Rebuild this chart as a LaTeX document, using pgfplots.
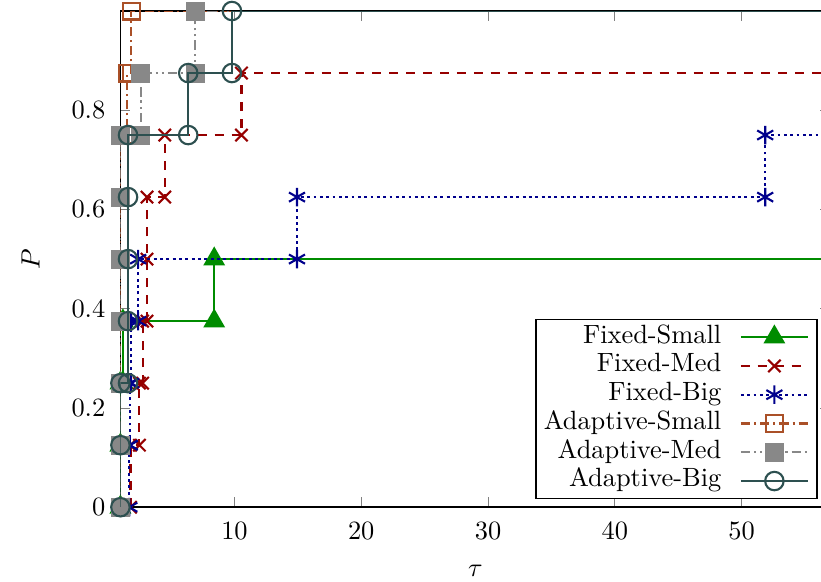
\documentclass[border=0pt]{standalone}
\usepackage{pgfplots}
\pgfplotsset{compat=1.18}

\definecolor{cFS}{RGB}{0,140,0}
\definecolor{cFM}{RGB}{150,0,0}
\definecolor{cFB}{RGB}{0,0,140}
\definecolor{cAS}{RGB}{170,80,40}
\definecolor{cAM}{RGB}{136,136,136}
\definecolor{cAB}{RGB}{45,80,80}

\begin{document}
\begin{tikzpicture}
\begin{axis}[
  scale only axis, width=268.8pt, height=187.9pt,
  xmin=1, xmax=57, ymin=0, ymax=1,
  xtick={10,20,30,40,50}, ytick={0,0.2,0.4,0.6,0.8},
  major tick length=3.8pt,
  axis line style={line width=0.6pt},
  yticklabel style={xshift=-2.2pt},
  xticklabel style={yshift=-2.3pt},
  clip mode=individual,
  xlabel=$\tau$, ylabel=$P$,
  every axis x label/.style={at={(axis description cs:0.5,0)}, yshift=-24pt, anchor=center},
  every axis y label/.style={at={(axis description cs:0,0.5)}, xshift=-34pt, rotate=90, anchor=center},
  legend plot pos=right,
  legend cell align=right,
  legend style={at={(axis cs:56,0.016)}, anchor=south east, draw=black, line width=0.5pt,
    row sep=0.4pt, column sep=7pt, inner xsep=3pt, inner ysep=1.4pt,
    nodes={inner xsep=0pt, inner ysep=0.5pt, text height=7pt, text depth=2.5pt}},
  legend image code/.code={\draw[mark repeat=2,mark phase=2,#1] plot coordinates {(0pt,0pt) (12.7pt,0pt) (25.4pt,0pt)};},
]
\addplot[cFS, line width=0.8pt, mark=triangle*, mark size=4pt, mark options={solid}] coordinates
{(1,0) (1,0.125) (1,0.25) (1.2,0.25) (1.2,0.375) (8.4,0.375) (8.4,0.5) (58,0.5)};
\addlegendentry{Fixed-Small}
\addplot[cFM, line width=0.8pt, dash pattern=on 3.4pt off 3pt, mark=x, mark size=3.3pt, mark options={solid}] coordinates
{(1.8,0) (1.8,0.125) (2.5,0.125) (2.5,0.25) (2.75,0.25) (2.75,0.375) (3.1,0.375) (3.1,0.5) (3.1,0.625) (4.5,0.625) (4.5,0.75) (10.55,0.75) (10.55,0.875) (58,0.875)};
\addlegendentry{Fixed-Med}
\addplot[cFB, line width=0.8pt, dash pattern=on 1.1pt off 1.3pt, mark=asterisk, mark size=3.5pt, mark options={solid}] coordinates
{(1.7,0) (1.7,0.125) (1.75,0.125) (1.75,0.25) (1.85,0.25) (1.85,0.375) (2.4,0.375) (2.4,0.5) (14.93,0.5) (14.93,0.625) (51.87,0.625) (51.87,0.75) (58,0.75)};
\addlegendentry{Fixed-Big}
\addplot[cAS, line width=0.8pt, dash pattern=on 3.5pt off 1.5pt on 0.8pt off 1.5pt, mark=square, mark size=3.2pt, mark options={solid}] coordinates
{(1,0) (1,0.125) (1,0.25) (1,0.375) (1,0.5) (1,0.625) (1,0.75) (1.55,0.75) (1.55,0.875) (1.85,0.875) (1.85,1) (58,1)};
\addlegendentry{Adaptive-Small}
\addplot[cAM, line width=0.8pt, dash pattern=on 3.5pt off 1.5pt on 0.8pt off 1.5pt on 0.8pt off 1.5pt, mark=square*, mark size=3.2pt, mark options={solid}] coordinates
{(1,0) (1,0.125) (1,0.25) (1,0.375) (1,0.5) (1,0.625) (1,0.75) (2.6,0.75) (2.6,0.875) (6.9,0.875) (6.9,1) (58,1)};
\addlegendentry{Adaptive-Med}
\addplot[cAB, line width=0.8pt, mark=o, mark size=3.5pt, mark options={solid}] coordinates
{(1,0) (1,0.125) (1,0.25) (1.6,0.25) (1.6,0.375) (1.6,0.5) (1.6,0.625) (1.6,0.75) (6.35,0.75) (6.35,0.875) (9.8,0.875) (9.8,1) (58,1)};
\addlegendentry{Adaptive-Big}
\coordinate (BL) at (rel axis cs:0,0);
\coordinate (TL) at (rel axis cs:0,1);
\end{axis}
\pgfresetboundingbox
\useasboundingbox ([xshift=-45.6pt,yshift=-28pt]BL) rectangle ([xshift=265.3pt,yshift=4.17pt]TL);
\end{tikzpicture}
\end{document}
